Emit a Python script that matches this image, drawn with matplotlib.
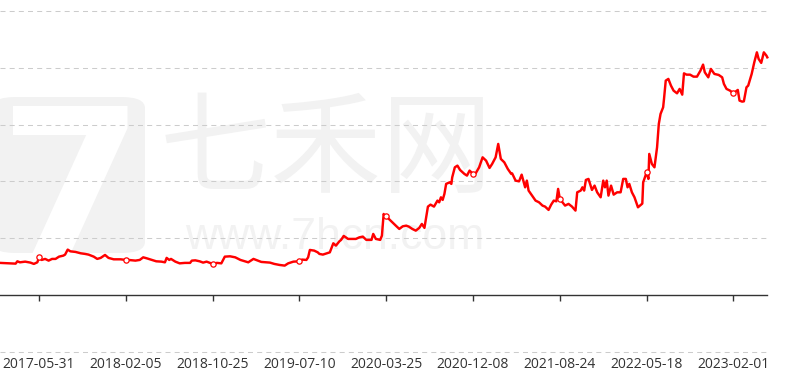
import matplotlib
matplotlib.use("Agg")
import matplotlib.pyplot as plt
from matplotlib.patches import FancyBboxPatch

# ---------------- data ----------------
day_idx = [0,12,18,20,23,29,35,39,43,45,48,52,56,60,64,68,73,75,78,81,87,93,98,102,108,112,116,121,125,131,139,145,
           148,156,161,165,169,175,180,186,190,192,195,197,202,207,213,219,221,225,230,234,238,245,250,255,259,265,271,277,282,286,292,
           295,301,311,316,322,328,332,338,345,348,353,355,357,362,366,368,372,378,380,382,384,387,391,393,396,401,407,410,414,418,422,428,430,433,438,440,442,
           443,445,448,452,456,460,464,468,471,475,479,483,486,489,491,493,496,500,504,506,508,510,512,514,518,520,521,524,527,530,535,538,541,545,548,552,556,560,564,567,571,574,577,581,585,589,
           590,594,598,601,604,605,607,609,613,617,621,625,628,632,635,638,641,643,645,648,651,655,659,663,665,669,671,673,675,678,682,685,688,692,695,697,699,701,704,707,711,715,718,721,723,725,728,731,735,740,
           741,743,745,747,748,751,754,757,759,761,764,765,767,770,773,776,780,783,786,788,791,795,799,803,807,810,812,816,819,823,828,832,834,837,841,845,850,852,855,857,860,862,866,869,872,874,877,880,883,884]

values = [564,556,551,592,574,586,569,546,574,662,616,634,604,634,634,674,692,710,798,768,757,733,722,710,674,634,652,704,652,627,627,616,
          616,604,616,662,645,616,592,586,574,652,616,634,586,556,564,564,604,609,592,569,586,546,564,556,674,680,662,616,592,574,634,
          616,581,569,546,528,516,556,586,592,622,616,662,792,780,750,722,710,740,750,828,909,868,944,969,1039,986,986,986,1014,1027,969,969,1074,986,969,1044,1426,
          1396,1396,1338,1278,1220,1162,1208,1220,1203,1162,1132,1180,1250,1180,1367,1555,1590,1555,1661,1631,1719,1673,1779,1955,1983,1955,2071,2247,2277,2201,2131,2101,2189,2131,2141,2247,2423,2365,2236,2307,2423,2659,2395,2335,2219,2131,
          2141,2013,2000,2118,1955,1895,2013,1837,1749,1661,1631,1573,1555,1497,1590,1661,1648,1867,1691,1631,1573,1603,1555,1485,1807,1837,1895,1837,2025,2043,1849,1925,1807,1719,2013,1895,2013,1749,1925,1766,1807,1807,2043,2043,1895,1955,1807,1719,1543,1608,
          1983,2071,2159,2043,2483,2307,2247,2599,3011,3187,3304,3452,3774,3804,3686,3598,3550,3628,3527,3902,3879,3879,3844,3844,3950,4056,3920,3832,3980,3892,3874,3832,3716,3628,3598,3550,3610,3422,3404,3409,3656,3686,3892,4096,4272,4156,4086,4272,4214,4184]

tick_idx = [45, 145, 245, 345, 445, 545, 645, 745, 845]
tick_labels = ["2017-05-31", "2018-02-05", "2018-10-25", "2019-07-10", "2020-03-25",
               "2020-12-08", "2021-08-24", "2022-05-18", "2023-02-01"]
y_grid = [-1000, 0, 1000, 2000, 3000, 4000, 5000]

# ---------------- figure ----------------
plt.rcParams['lines.scale_dashes'] = False
W, H = 785, 374
fig = plt.figure(figsize=(W / 100, H / 100), dpi=100)
fig.patch.set_facecolor("white")

def fx(px):
    return px / W

def fy(py):
    return 1 - py / H

# watermark
wm = "#f2f2f2"
logo = FancyBboxPatch((fx(-8), fy(253)), fx(153), fy(97) - fy(253),
                      boxstyle="round,pad=0,rounding_size=0.03",
                      transform=fig.transFigure, facecolor=wm, edgecolor="none", zorder=0)
fig.patches.append(logo)
fig.text(fx(72), fy(258), "7", color="white", fontsize=150, fontweight="bold",
         family="DejaVu Sans", ha="center", va="baseline", zorder=1)
fig.text(fx(326), fy(152), "七禾网", color=wm, fontsize=80,
         family=["Noto Sans CJK SC", "DejaVu Sans"], ha="center", va="center", zorder=1)
fig.text(fx(335), fy(249), "www.7hcn.com", color=wm, fontsize=32,
         family="Liberation Sans", ha="center", va="baseline", zorder=1)

ax = fig.add_axes([0, fy(351.7), fx(767.3), fy(11) - fy(351.7)])
ax.patch.set_alpha(0)
ax.set_zorder(2)

ax.set_xlim(0, 884)
ax.set_ylim(y_grid[0], y_grid[-1])

for g in y_grid:
    if g == 0:
        continue
    ax.axhline(g, color="#cccccc", lw=0.75, linestyle=(0, (3.6, 3.0)), zorder=1, clip_on=False)

mark_pos = [day_idx.index(t) for t in tick_idx]
ax.plot(day_idx, values, color="#ff0000", lw=1.75, zorder=3,
        marker="o", markevery=mark_pos, markersize=3.8,
        markerfacecolor="white", markeredgecolor="#ff0000", markeredgewidth=0.9,
        solid_joinstyle="round", clip_on=False)

for s in ["top", "right", "left"]:
    ax.spines[s].set_visible(False)
ax.spines["bottom"].set_position(("data", 0))
ax.spines["bottom"].set_color("#333333")
ax.spines["bottom"].set_linewidth(1.0)
ax.set_yticks([])
ax.set_xticks(tick_idx)
ax.set_xticklabels(tick_labels, family="Open Sans", fontsize=10, color="#333333")
ax.tick_params(axis="x", direction="out", length=4, width=1, color="#333333", pad=41)

fig.savefig("out.png", dpi=100, facecolor="white")
